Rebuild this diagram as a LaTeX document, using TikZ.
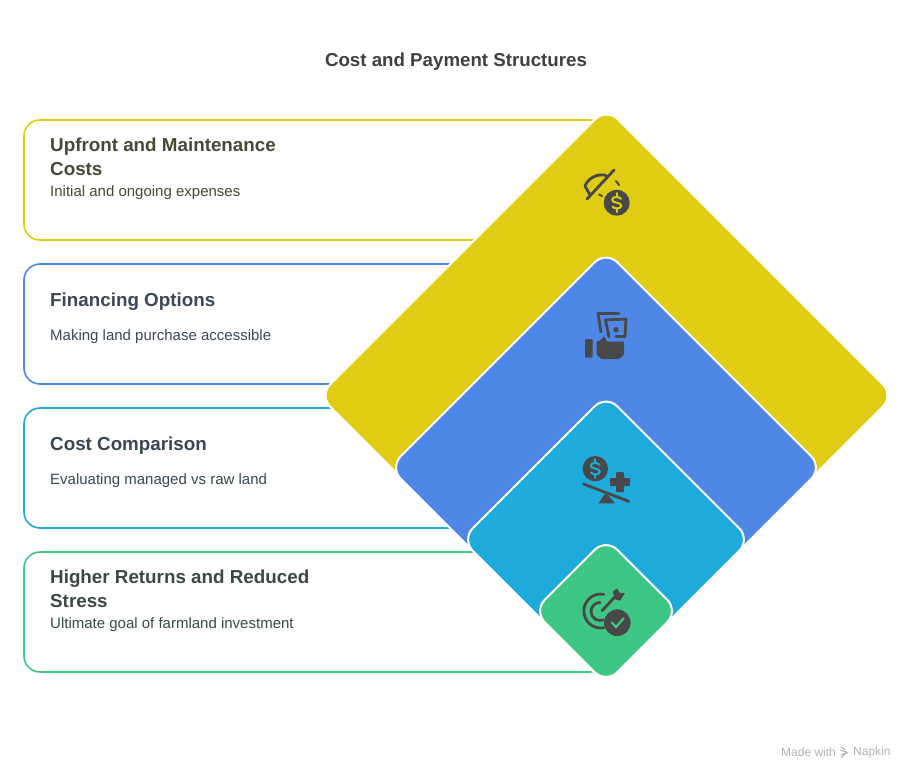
\documentclass[tikz,border=0pt]{standalone}
\usepackage{fontspec}
\setmainfont{Liberation Sans}
\usetikzlibrary{shapes.geometric}
\definecolor{YellowTone}{HTML}{E0CC12}
\definecolor{BlueTone}{HTML}{4F87E6}
\definecolor{CyanTone}{HTML}{1EABDB}
\definecolor{GreenTone}{HTML}{3EC784}
\definecolor{IconGray}{HTML}{484848}
\definecolor{YellowText}{HTML}{4A4933}
\definecolor{BlueText}{HTML}{3D4759}
\definecolor{CyanText}{HTML}{384850}
\definecolor{GreenText}{HTML}{3A4A43}
\tikzset{
    card/.style={rectangle, draw=#1, fill=white, line width=1.6pt, rounded corners=16pt,
        minimum width=582pt, minimum height=120pt, inner sep=0pt, outer sep=0pt},
    stone/.style={diamond, aspect=1, fill=#1, draw=white, line width=2pt, rounded corners=16pt,
        inner sep=0pt, outer sep=0pt},
    headtext/.style={anchor=west, align=left, inner sep=0pt, font=\fontsize{18.8}{24}\selectfont\bfseries, text=#1},
    desctext/.style={anchor=west, align=left, inner sep=0pt, font=\fontsize{15}{18}\selectfont, text=#1},
    iconline/.style={draw=IconGray, line width=2.8pt, line cap=round, line join=round}
}
% round coin with a dollar sign cut out of it
\newcommand{\coinicon}[4]{
    \fill[IconGray] (#1,#2) circle (#3pt);
    \begin{scope}[shift={(#1,#2)}]
        \draw[#4, line width=2pt, line cap=round]
            (4.2,-3.8) .. controls (3,-6.5) and (-4.5,-6.5) .. (-4.5,-3)
            .. controls (-4.5,1) and (4.5,-1) .. (4.5,3)
            .. controls (4.5,6.5) and (-3,6.5) .. (-4.2,3.8);
        \draw[#4, line width=2pt, line cap=round] (0,-9.5) -- (0,-6) (0,6) -- (0,9.5);
    \end{scope}
}
\begin{document}
\begin{tikzpicture}[x=1pt, y=-1pt]
    \useasboundingbox[fill=white] (0,0) rectangle (914,780);

    % --- title ---
    \node[font=\fontsize{18.7}{22}\selectfont\bfseries, text=black!75, inner sep=0pt] (title) at (456,61.5) {Cost and Payment Structures};

    % --- cards ---
    \node[card=YellowTone] (cardcosts) at (315,180) {};
    \node[card=BlueTone] (cardfinance) at (315,324) {};
    \node[card=CyanTone] (cardcompare) at (315,468) {};
    \node[card=GreenTone] (cardreturns) at (315,612) {};

    % --- card texts ---
    \node[headtext=YellowText] (headcosts) at (50,157) {Upfront and Maintenance\\Costs};
    \node[desctext=YellowText] (desccosts) at (50,193) {Initial and ongoing expenses};
    \node[headtext=BlueText] (headfinance) at (50,301.5) {Financing Options};
    \node[desctext=BlueText] (descfinance) at (50,337) {Making land purchase accessible};
    \node[headtext=CyanText] (headcompare) at (50,445.5) {Cost Comparison};
    \node[desctext=CyanText] (desccompare) at (50,481) {Evaluating managed vs raw land};
    \node[headtext=GreenText] (headreturns) at (50,589) {Higher Returns and Reduced\\Stress};
    \node[desctext=GreenText] (descreturns) at (50,625) {Ultimate goal of farmland investment};

    % --- diamonds, largest first ---
    \node[stone=YellowTone, minimum size=575pt] (stonecosts) at (606.5,395.5) {};
    \node[stone=BlueTone, minimum size=433pt] (stonefinance) at (606,467.5) {};
    \node[stone=CyanTone, minimum size=289pt] (stonecompare) at (606,539.5) {};
    \node[stone=GreenTone, minimum size=145pt] (stonereturns) at (606,611) {};

    % --- icon: crossed gauge ---
    \draw[iconline] (614,170) -- (587,199);
    \draw[iconline] (589.5,194) -- (585,186) .. controls (588,178) and (598,173) .. (606,175.5);
    \draw[iconline, line width=2pt] (599,194.5) -- (602,196);
    \draw[iconline, line width=2pt] (616,181) -- (619,185);
    \coinicon{616.7}{202.7}{13}{YellowTone}

    % --- icon: hand with bills ---
    \fill[IconGray, rounded corners=1pt] (585,339) rectangle (592.7,357.5);
    \fill[IconGray, rounded corners=1pt] (596.5,342) -- (601,340) -- (604.5,336) -- (606.5,341.5)
        -- (624,341.5) -- (624,355) -- (618.5,359) -- (601.5,359) -- (596.5,354.5) -- cycle;
    \draw[iconline] (601,332) -- (598,313.5) -- (619,313.5);
    \draw[iconline] (609,337) -- (605.5,320) -- (626,319) -- (625,336.5) -- (616,336.5);
    \fill[IconGray] (616,329.7) circle (2.7pt);

    % --- icon: coin and plus on a scale ---
    \coinicon{595.3}{468.7}{12.7}{CyanTone}
    \fill[IconGray, rounded corners=1pt] (616,472) rectangle (624,492);
    \fill[IconGray, rounded corners=1pt] (610,478) rectangle (630,486);
    \draw[iconline] (583.5,484) -- (628.7,501.3);
    \fill[IconGray] (598.3,503.3) -- (615,503.3) -- (608,495) -- (605,494) -- cycle;

    % --- icon: target with arrow and check ---
    \draw[iconline] (603.8,594.3) arc[start angle=80, end angle=280, radius=17pt];
    \draw[iconline] (600,602.5) arc[start angle=90, end angle=290, radius=9pt];
    \draw[iconline] (602,610.7) -- (616.7,595);
    \fill[IconGray] (612.7,591.7) -- (617.3,588.3) -- (619.3,592.7) -- (625,593.3) -- (620,600.7) -- (615,599.3) -- cycle;
    \fill[IconGray] (617.3,622.7) circle (13.3pt);
    \draw[GreenTone, line width=2.2pt, line cap=round, line join=round] (612,622.5) -- (616,627) -- (623.5,618.5);

    % --- footer ---
    \node[anchor=west, inner sep=0pt, font=\fontsize{12}{14}\selectfont, text=black!30] (madewith) at (781,752.5) {Made with};
    \node[anchor=west, inner sep=0pt, font=\fontsize{12}{14}\selectfont, text=black!30] (napkin) at (853,752.5) {Napkin};
    \draw[black!30, line width=1pt] (841,747) -- (845,749.5) (840.5,750) -- (848,752.5) (848,752.5) -- (840.5,755) (845,754.5) -- (841,757.5);
\end{tikzpicture}
\end{document}
